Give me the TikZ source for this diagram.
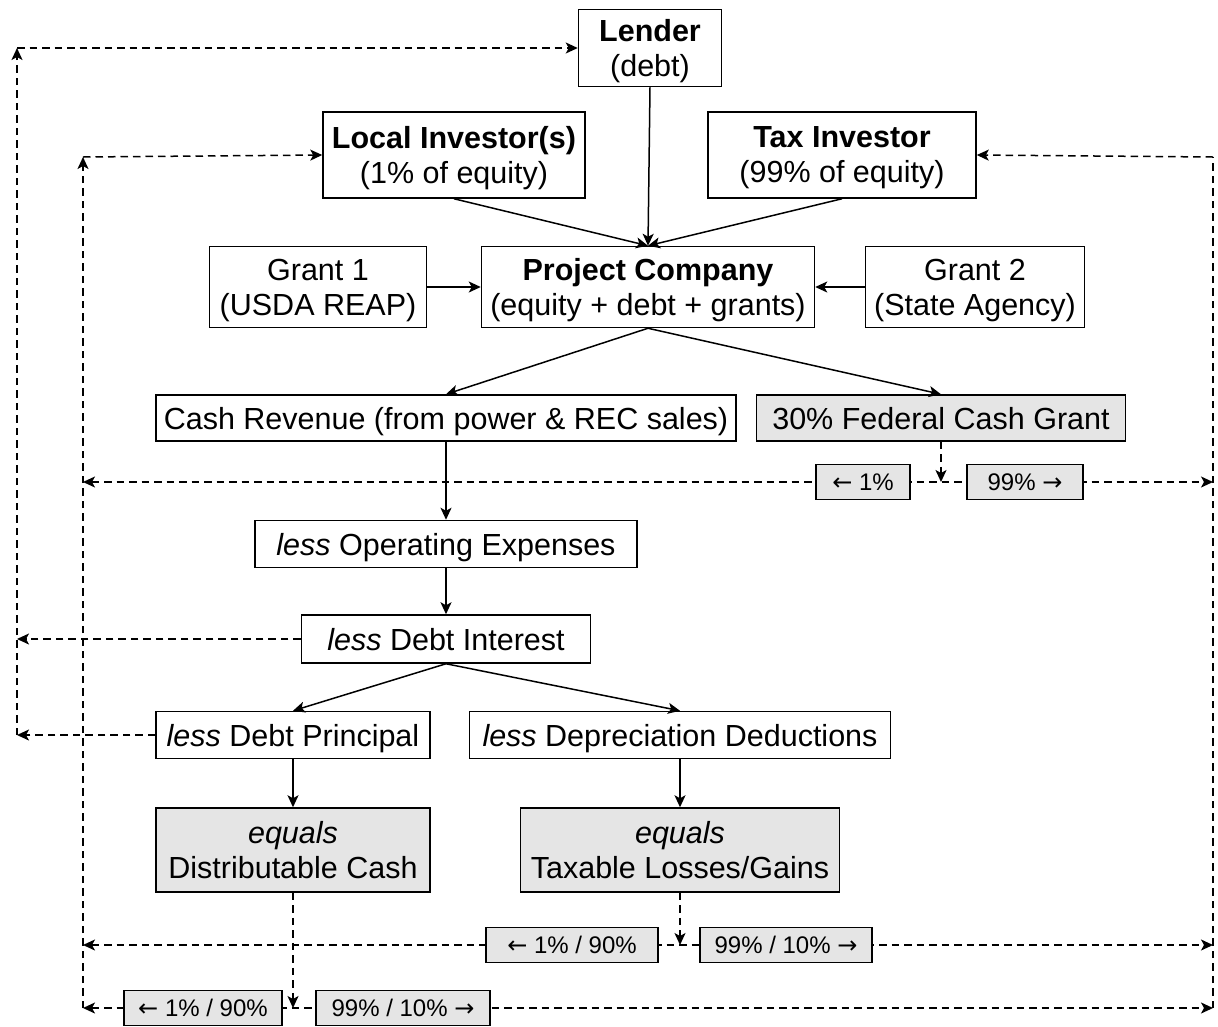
\documentclass[tikz,border=0pt]{standalone}
\usepackage{fontspec}
\setmainfont{Liberation Sans}
\newfontfamily\arrowfont{DejaVu Sans}
\usetikzlibrary{arrows.meta}
\newcommand{\toleft}{{\arrowfont ←}}
\newcommand{\toright}{{\arrowfont →}}
\begin{document}
\begin{tikzpicture}[x=1pt, y=-1pt, line width=1.5pt,
    font=\fontsize{30.5}{35}\selectfont,
    >={Stealth[length=12pt,width=11pt,inset=3pt]},
    box/.style={draw, fill=white, align=center, inner sep=0pt, text depth=0pt},
    result/.style={box, fill=black!10},
    share/.style={box, fill=black!10, minimum height=35pt, font=\fontsize{24}{28}\selectfont},
    flow/.style={->},
    link/.style={dash pattern=on 7.5pt off 5pt},
    split/.style={link, ->}]
  \useasboundingbox (0,0) rectangle (1218,1026);
  % parties and project
  \node[box, minimum width=143pt, minimum height=77pt] (lender) at (650,48) {\textbf{Lender}\\(debt)};
  \node[box, minimum width=262pt, minimum height=86pt] (loc) at (454,155) {\textbf{Local Investor(s)}\\(1\% of equity)};
  \node[box, minimum width=268pt, minimum height=86pt] (tax) at (842,155) {\textbf{Tax Investor}\\(99\% of equity)};
  \node[box, minimum width=333pt, minimum height=81pt] (pc) at (648,287) {\textbf{Project Company}\\(equity + debt + grants)};
  \node[box, minimum width=217pt, minimum height=81pt] (g1) at (318,287) {Grant 1\\(USDA REAP)};
  \node[box, minimum width=219pt, minimum height=81pt] (g2) at (975,287) {Grant 2\\(State Agency)};
  % cash waterfall
  \node[box, minimum width=580pt, minimum height=46pt] (cash) at (446,418) {Cash Revenue (from power \& REC sales)};
  \node[result, minimum width=369pt, minimum height=46pt] (fed) at (941,418) {30\% Federal Cash Grant};
  \node[box, minimum width=382pt, minimum height=47pt] (opex) at (446,544) {\textit{less} Operating Expenses};
  \node[box, minimum width=289pt, minimum height=48pt] (int) at (446,639) {\textit{less} Debt Interest};
  \node[box, minimum width=274pt, minimum height=47pt] (pri) at (293,735) {\textit{less} Debt Principal};
  \node[box, minimum width=421pt, minimum height=47pt] (dep) at (680,735) {\textit{less} Depreciation Deductions};
  \node[result, minimum width=274pt, minimum height=84pt] (dist) at (293,850) {\textit{equals}\\Distributable Cash};
  \node[result, minimum width=319pt, minimum height=84pt] (taxl) at (680,850) {\textit{equals}\\Taxable Losses/Gains};
  % solid flows
  \draw[flow] (lender.south) -- (pc.north);
  \draw[flow] (loc.south) -- (pc.north);
  \draw[flow] (tax.south) -- (pc.north);
  \draw[flow] (g1.east) -- (pc.west);
  \draw[flow] (g2.west) -- (pc.east);
  \draw[flow] (pc.south) -- (cash.north);
  \draw[flow] (pc.south) -- (fed.north);
  \draw[flow] (cash.south) -- (opex.north);
  \draw[flow] (opex.south) -- (int.north);
  \draw[flow] (int.south) -- (pri.north);
  \draw[flow] (int.south) -- (dep.north);
  \draw[flow] (pri.south) -- (dist.north);
  \draw[flow] (dep.south) -- (taxl.north);
  % dashed payment lines
  \coordinate (ltop) at (17,48);
  \coordinate (lint) at (17,639);
  \coordinate (lpri) at (17,735);
  \coordinate (mtop) at (83,157);
  \coordinate (m1) at (83,482);
  \coordinate (m2) at (83,945);
  \coordinate (mbot) at (83,1008);
  \coordinate (rtop) at (1213,157);
  \coordinate (r1) at (1213,482);
  \coordinate (r2) at (1213,945);
  \coordinate (rbot) at (1213,1008);
  \draw[split] (int.west) -- (lint);
  \draw[split] (pri.west) -- (lpri);
  \draw[split] (lpri) -- (ltop);
  \draw[split] (ltop) -- (lender.west);
  \draw[split] (mbot) -- (mtop);
  \draw[split] (mtop) -- (loc.west);
  \draw[link] (rbot) -- (rtop);
  \draw[split] (rtop) -- (tax.east);
  \draw[link, <->] (m1) -- (r1);
  \draw[link, <->] (m2) -- (r2);
  \draw[link, <->] (mbot) -- (rbot);
  \draw[split] (fed.south) -- (fed.south |- r1);
  \draw[split] (taxl.south) -- (taxl.south |- r2);
  \draw[split] (dist.south) -- (dist.south |- rbot);
  % split labels
  \node[share, minimum width=94pt] (fedl) at (863,482) {\toleft{} 1\%};
  \node[share, minimum width=116pt] (fedr) at (1025,482) {99\% \toright};
  \node[share, minimum width=172pt] (taxll) at (572,945) {\toleft{} 1\% / 90\%};
  \node[share, minimum width=172pt] (taxlr) at (786,945) {99\% / 10\% \toright};
  \node[share, minimum width=158pt] (distl) at (203,1008) {\toleft{} 1\% / 90\%};
  \node[share, minimum width=174pt] (distr) at (403,1008) {99\% / 10\% \toright};
\end{tikzpicture}
\end{document}
